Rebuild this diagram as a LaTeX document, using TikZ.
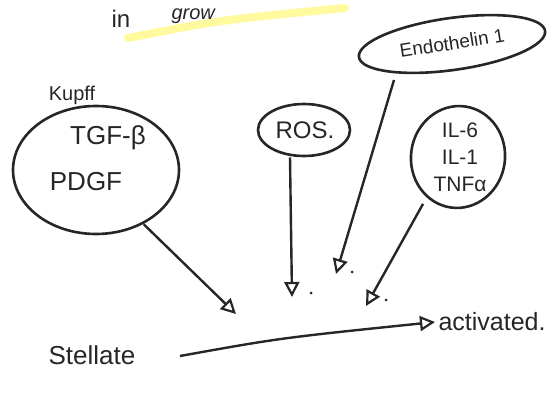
\documentclass[tikz,border=0pt]{standalone}
\usepackage{fontspec}
\setmainfont{Liberation Sans}
\usetikzlibrary{arrows.meta,shapes.geometric}
\begin{document}
\begin{tikzpicture}[x=1pt,y=-1pt,
  ink/.style={draw=black!85, line width=2.6pt},
  oval/.style={ink, ellipse, inner sep=0pt},
  lbl/.style={text=black!85, font=\fontsize{24}{26}\selectfont},
  conn/.style={ink, line width=2.4pt, -{Triangle[open,length=15pt,width=15pt,line width=2.2pt]}},
  dot/.style={circle, fill=black!85, inner sep=0pt, minimum size=3pt}]
\useasboundingbox (0,0) rectangle (556,395);
\clip (0,0) rectangle (556,395);
% top fragment
\draw[yellow!55, line width=8pt, line cap=round, opacity=0.7] (128,38) .. controls (220,20) .. (345,8);
\node[lbl, anchor=base west] (in) at (108,28) {in};
\node[lbl, anchor=base west, font=\itshape\fontsize{20}{22}\selectfont] (gro) at (168,20) {grow};
% Endothelin
\node[oval, minimum width=188pt, minimum height=52pt, rotate=8] (endo) at (452,44) {};
\node[lbl, font=\fontsize{19}{21}\selectfont, rotate=9] (endot) at (452,43) {Endothelin 1};
\coordinate (e0) at (394,80);
% Kupffer
\node[lbl, font=\fontsize{20}{22}\selectfont] (kup) at (72,95) {Kupff};
\node[oval, minimum width=166pt, minimum height=128pt] (kc) at (96,170) {};
\node[lbl, font=\fontsize{26}{28}\selectfont] (tgf) at (108,138) {TGF-β};
\node[lbl, font=\fontsize{26}{28}\selectfont] (pdgf) at (86,182) {PDGF};
% ROS
\node[oval, minimum width=92pt, minimum height=52pt] (ros) at (304,130) {};
\node[lbl] (rost) at (305,130) {ROS.};
% Cytokines
\node[oval, minimum width=94pt, minimum height=102pt, rotate=-8] (cyt) at (458,157) {};
\node[lbl, align=center, font=\fontsize{21}{27}\selectfont] (cytt) at (460,157) {IL-6\\IL-1\\TNFα};
% targets
\coordinate (t1) at (236,314);
\coordinate (t2) at (292,297);
\coordinate (t3) at (336,274);
\coordinate (t4) at (366,306);
\draw[conn] (kc.south east) ++(-12,8) -- (t1);
\draw[conn] (ros.south) ++(-14,0) -- (t2);
\draw[conn] (e0) -- (t3);
\draw[conn] (cyt.south west) ++(4,15) -- (t4);
\node[dot] (d2) at (311,293) {};
\node[dot] (d3) at (352,272) {};
\node[dot] (d4) at (386,300) {};
% bottom
\node[lbl, font=\fontsize{26}{28}\selectfont] (stel) at (92,355) {Stellate};
\node[lbl, font=\fontsize{25}{27}\selectfont] (act) at (492,322) {activated.};
\draw[conn] (180,356) .. controls (280,338) .. (act.west);
\end{tikzpicture}
\end{document}
